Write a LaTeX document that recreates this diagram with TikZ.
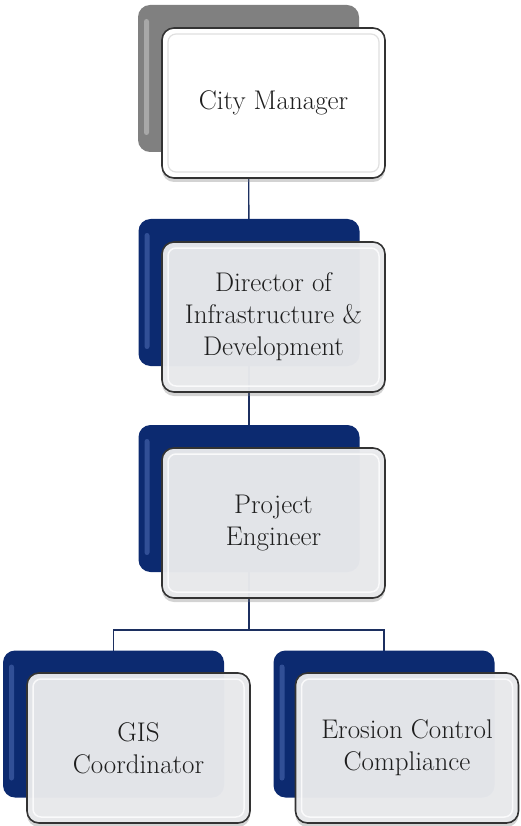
\documentclass[tikz,border=0pt]{standalone}
\usepackage{fontspec}
\usetikzlibrary{shadows,backgrounds}
\definecolor{navy}{HTML}{0C2A70}
\definecolor{navylight}{HTML}{4A68B0}
\definecolor{greyback}{HTML}{808080}
\definecolor{greylight}{HTML}{C4C4C4}
\definecolor{frontfill}{HTML}{E9EAED}
\definecolor{frontedge}{HTML}{333333}
\definecolor{linecol}{HTML}{1C2F60}
\definecolor{txt}{HTML}{1E1E1E}
\tikzset{
  backbox/.style={rectangle, rounded corners=12pt, minimum width=221pt, minimum height=147pt,
    inner sep=0pt, fill=navy,
    path picture={\fill[#1, opacity=0.6, rounded corners=2.5pt]
      ([xshift=6pt,yshift=-14pt]path picture bounding box.north west) rectangle ++(5pt,-116pt);}},
  backbox/.default=navylight,
  greybox/.style={backbox=greylight, fill=greyback},
  frontbox/.style={rectangle, rounded corners=12pt, minimum width=223pt, minimum height=150pt,
    draw=frontedge, line width=1.6pt, fill=frontfill, fill opacity=0.965, text opacity=1,
    drop shadow={shadow xshift=0pt, shadow yshift=-4pt, opacity=0.35},
    path picture={\draw[white, line width=1.5pt, rounded corners=8pt, opacity=0.8]
      ([xshift=6pt,yshift=-6pt]path picture bounding box.north west) rectangle
      ([xshift=-6pt,yshift=6pt]path picture bounding box.south east);},
    align=center, text=txt, font=\fontsize{27}{32}\selectfont, inner sep=0pt},
  whitebox/.style={frontbox, fill=white, fill opacity=1,
    path picture={\draw[black!12, line width=1.2pt, rounded corners=8pt]
      ([xshift=6pt,yshift=-6pt]path picture bounding box.north west) rectangle
      ([xshift=-6pt,yshift=6pt]path picture bounding box.south east);}},
  conn/.style={draw=linecol, line width=1.4pt}
}
\begin{document}
\begin{tikzpicture}[x=1pt,y=-1pt]
\useasboundingbox (0,0) rectangle (520,826);
% back boxes
\node[greybox] (cmb) at (248.5,78.5) {};
\node[backbox] (dib) at (249,292.5) {};
\node[backbox] (peb) at (249,498.5) {};
\node[backbox] (gib) at (113.5,724) {};
\node[backbox] (ecb) at (384,724) {};
% front boxes
\node[whitebox] (cm) at (273.5,103) {City Manager};
\node[frontbox] (di) at (273.5,317) {Director of\\Infrastructure \&\\Development};
\node[frontbox] (pe) at (273.5,523) {Project\\Engineer};
\node[frontbox] (gi) at (138.5,748) {GIS\\Coordinator};
\node[frontbox] (ec) at (407,748) {Erosion Control\\Compliance};
% connectors
\coordinate (jn) at (249,630);
\begin{scope}[on background layer]
\draw[conn] (cmb.center) -- (dib.center);
\draw[conn] (dib.center) -- (peb.center);
\draw[conn] (peb.center) -- (jn);
\draw[conn] (gib.center) |- (jn) -| (ecb.center);
\end{scope}
\end{tikzpicture}
\end{document}
